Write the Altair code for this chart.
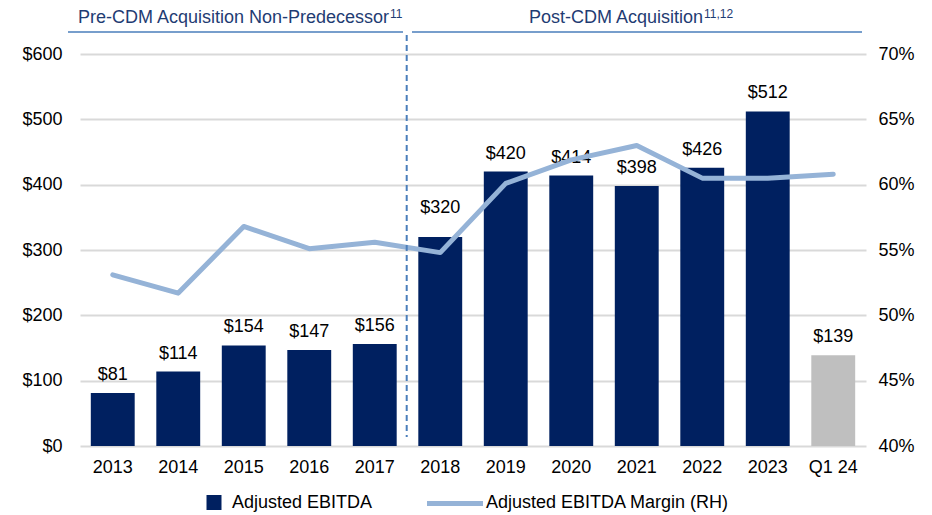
import altair as alt
import pandas as pd

years = ["2013", "2014", "2015", "2016", "2017", "2018", "2019", "2020", "2021", "2022", "2023", "Q1 24"]
ebitda = [81, 114, 154, 147, 156, 320, 420, 414, 398, 426, 512, 139]
margin = [0.531, 0.517, 0.568, 0.551, 0.556, 0.548, 0.601, 0.619, 0.630, 0.605, 0.605, 0.608]

left_ticks = [0, 100, 200, 300, 400, 500, 600]
right_ticks = [0.40, 0.45, 0.50, 0.55, 0.60, 0.65, 0.70]

header_left = "Pre-CDM Acquisition Non-Predecessor"
header_left_sup = "11"
header_right = "Post-CDM Acquisition"
header_right_sup = "11,12"
legend_bar = "Adjusted EBITDA"
legend_line = "Adjusted EBITDA Margin (RH)"

df = pd.DataFrame({"year": years, "ebitda": ebitda, "margin": margin})

FONT = "Liberation Sans"
NAVY = "#002060"
GREY = "#bfbfbf"
LINE = "#95b3d7"
HDR = "#1f3c73"
HDR_LINE = "#4a7ebb"
FS = 18

xenc = alt.X("year:N", sort=years, title=None,
             scale=alt.Scale(paddingInner=0.33, paddingOuter=0.165),
             axis=alt.Axis(labelFont=FONT, labelFontSize=FS, labelColor="#000000",
                           ticks=False, domain=False, labelPadding=12, labelAngle=0))

yleft = alt.Y("ebitda:Q", title=None,
              scale=alt.Scale(domain=[0, 600], nice=False),
              axis=alt.Axis(values=left_ticks, labelExpr="'$' + datum.value",
                            labelFont=FONT, labelFontSize=FS, labelColor="#000000",
                            ticks=False, domain=False, labelPadding=18,
                            grid=True, gridColor="#d9d9d9", gridWidth=2))

base = alt.Chart(df)

bars = base.mark_bar().encode(
    x=xenc,
    y=yleft,
    color=alt.condition(alt.datum.year == "Q1 24", alt.value(GREY), alt.value(NAVY)),
)

lbl = base.transform_calculate(label="'$' + datum.ebitda")
labels = lbl.transform_filter(alt.datum.year != "2018").mark_text(
    font=FONT, fontSize=FS, color="#000000", baseline="middle", dy=-18
).encode(x=alt.X("year:N", sort=years), y=alt.Y("ebitda:Q"), text="label:N")
labels18 = lbl.transform_filter(alt.datum.year == "2018").mark_text(
    font=FONT, fontSize=FS, color="#000000", baseline="middle", dy=-29
).encode(x=alt.X("year:N", sort=years), y=alt.Y("ebitda:Q"), text="label:N")

left_layer = alt.layer(bars, labels, labels18)

line = base.mark_line(color=LINE, strokeWidth=5, strokeCap="round", strokeJoin="round").encode(
    x=alt.X("year:N", sort=years),
    y=alt.Y("margin:Q", title=None,
            scale=alt.Scale(domain=[0.40, 0.70], nice=False),
            axis=alt.Axis(orient="right", values=right_ticks, format=".0%",
                          labelFont=FONT, labelFontSize=FS, labelColor="#000000",
                          ticks=False, domain=False, labelPadding=12, grid=False)),
)

one = pd.DataFrame({"k": [0]})

def txt(s, x, y, size, color, align, baseline="middle"):
    return alt.Chart(one).mark_text(font=FONT, fontSize=size, color=color,
                                    align=align, baseline=baseline).encode(
        x=alt.value(x), y=alt.value(y), text=alt.value(s))

def hline(x1, x2, y, color, w):
    return alt.Chart(one).mark_rule(color=color, strokeWidth=w).encode(
        x=alt.value(x1), x2=alt.value(x2), y=alt.value(y))

def vline(x, y1, y2, color, w, dash):
    return alt.Chart(one).mark_rule(color=color, strokeWidth=w, strokeDash=dash).encode(
        x=alt.value(x), y=alt.value(y1), y2=alt.value(y2))

deco = [
    txt(header_left, 309, -31, FS, HDR, "right", "alphabetic"),
    txt(header_left_sup, 310, -36, 12, HDR, "left", "alphabetic"),
    txt(header_right, 623, -31, FS, HDR, "right", "alphabetic"),
    txt(header_right_sup, 624, -36, 12, HDR, "left", "alphabetic"),
    hline(-12, 323, -22, HDR_LINE, 1.5),
    hline(332, 782, -22, HDR_LINE, 1.5),
    vline(326.7, -19, 383, HDR_LINE, 2, [6, 4]),
    alt.Chart(one).mark_square(color=NAVY, size=225, opacity=1, cornerRadius=3).encode(
        x=alt.value(134), y=alt.value(448.5)),
    txt(legend_bar, 152, 448.5, FS, "#000000", "left"),
    hline(347, 403, 449.5, LINE, 5),
    txt(legend_line, 406, 448.5, FS, "#000000", "left"),
]

chart = alt.layer(left_layer, line, *deco).resolve_scale(y="independent").properties(
    width=786, height=392,
    autosize=alt.AutoSizeParams(type="none"),
    padding={"left": 72, "top": 46, "right": 58, "bottom": 66},
).configure_view(stroke=None)

chart.save("out.html", embed_options={"renderer": "svg", "actions": False})
